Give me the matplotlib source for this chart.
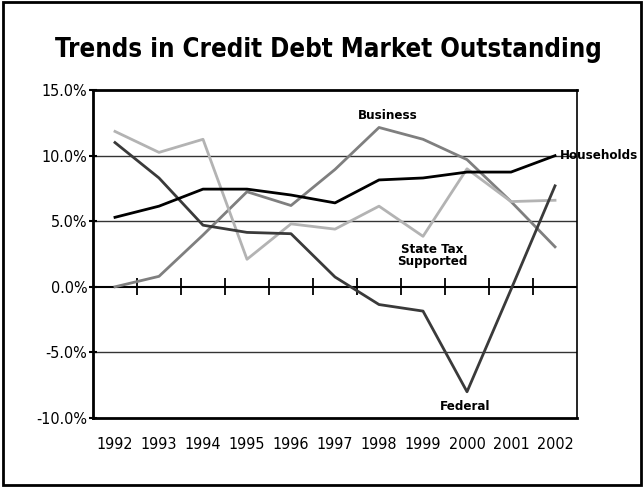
import numpy as np
import matplotlib.pyplot as plt
from matplotlib.patches import Rectangle
from matplotlib.ticker import FuncFormatter

# ---- Annual growth of credit market debt outstanding (%) ----
years = ["1992", "1993", "1994", "1995", "1996", "1997",
         "1998", "1999", "2000", "2001", "2002"]

households = [5.3, 6.15, 7.45, 7.45, 7.0, 6.4, 8.15, 8.3, 8.75, 8.75, 10.0]
business = [0.0, 0.8, 3.95, 7.25, 6.2, 8.95, 12.15, 11.25, 9.7, 6.5, 3.05]
state_tax = [11.85, 10.25, 11.25, 2.1, 4.8, 4.4, 6.15, 3.85, 9.0, 6.5, 6.6]
federal = [11.0, 8.3, 4.7, 4.15, 4.05, 0.75, -1.35, -1.85, -8.0, -0.2, 7.7]

plt.rcParams["font.family"] = ["DejaVu Sans"]
plt.rcParams["font.stretch"] = "condensed"

x = np.arange(len(years))

fig = plt.figure(figsize=(6.44, 4.87), dpi=100)
ax = fig.add_axes([0.1444, 0.1417, 0.7516, 0.6733])

# horizontal reference lines
for v in [10, 5, -5]:
    ax.axhline(v, color="#333333", linewidth=1.0, zorder=1)
ax.axhline(0, color="black", linewidth=1.5, zorder=1)
# category separators on the zero line
ax.vlines(x[:-1] + 0.5, -0.65, 0.65, color="black", linewidth=1.3, zorder=1)

ax.plot(x, households, color="black", linewidth=2.0, zorder=4)
ax.plot(x, business, color="#7f7f7f", linewidth=2.0, zorder=3)
ax.plot(x, state_tax, color="#b3b3b3", linewidth=2.0, zorder=3)
ax.plot(x, federal, color="#3a3a3a", linewidth=2.0, zorder=3)

ax.set_xlim(-0.5, 10.5)
ax.set_ylim(-10, 15)
ax.set_yticks([-10, -5, 0, 5, 10, 15])
ax.yaxis.set_major_formatter(FuncFormatter(lambda v, p: f"{v:.1f}%"))
ax.set_xticks(x)
ax.set_xticklabels(years)
ax.tick_params(axis="x", length=0, pad=14, labelsize=11.5)
ax.tick_params(axis="y", length=6, width=1.5, direction="inout",
               labelsize=11.5, pad=1)

for side in ["left", "bottom", "top"]:
    ax.spines[side].set_linewidth(2.0)
ax.spines["right"].set_linewidth(1.2)

# series labels
lab = dict(fontsize=9.5, fontweight="bold", color="black")
ax.text(6.2, 12.6, "Business", ha="center", va="bottom", **lab)
ax.text(10.1, 10.0, "Households", ha="left", va="center",
        clip_on=False, **lab)
ax.text(7.2, 3.35, "State Tax\nSupported", ha="center", va="top",
        linespacing=0.95, **lab)
ax.text(7.95, -8.6, "Federal", ha="center", va="top", **lab)

fig.text(0.51, 0.897, "Trends in Credit Debt Market Outstanding",
         ha="center", va="center", fontsize=18.5, fontweight="bold")

# frame around the whole figure
fig.patches.append(Rectangle((0.005, 0.005), 0.99, 0.99, transform=fig.transFigure,
                             fill=False, edgecolor="black", linewidth=2.0))

fig.savefig("out.png", dpi=100)
